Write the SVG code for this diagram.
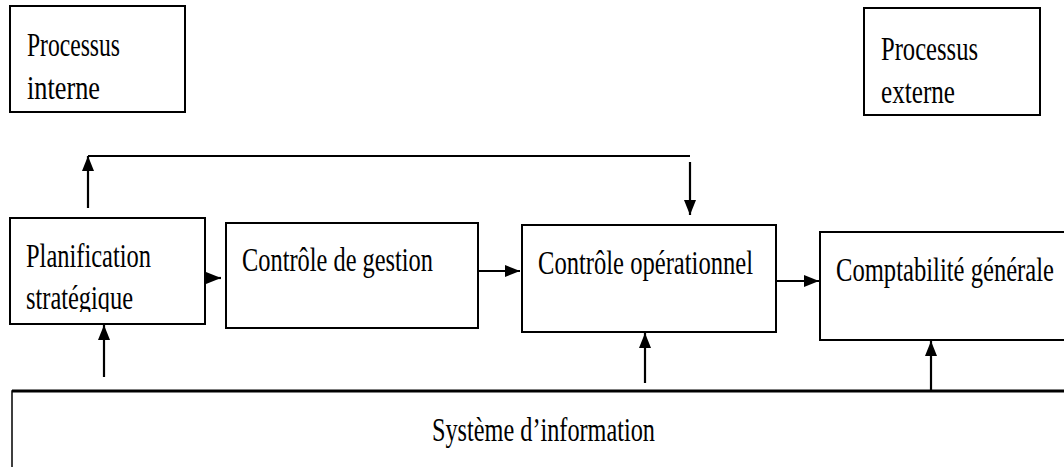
<svg xmlns="http://www.w3.org/2000/svg" width="1064" height="467" viewBox="0 0 1064 467">
<style>
.box{fill:#fff;stroke:#000;stroke-width:2}
.sys{fill:#fff;stroke:#000;stroke-width:1.5}
.t{font-family:"Liberation Serif","Times New Roman",serif;font-size:34px;fill:#000}
.c{fill:none;stroke:#000;stroke-width:2.2}
</style>
<defs>
<marker id="ah" markerUnits="userSpaceOnUse" markerWidth="16" markerHeight="14" refX="15" refY="7" orient="auto">
<path d="M0,1 L15,7 L0,13 Z" fill="#000"/>
</marker>
<clipPath id="clipPlan"><rect x="10" y="218" width="195" height="94"/></clipPath>
</defs>
<rect x="0" y="0" width="1064" height="467" fill="#fff"/>
<g id="processus-interne">
<rect class="box" x="10" y="6" width="175" height="106"/>
<text class="t" x="27" y="56" textLength="93" lengthAdjust="spacingAndGlyphs">Processus</text>
<text class="t" x="27" y="99" textLength="73" lengthAdjust="spacingAndGlyphs">interne</text>
</g>
<g id="processus-externe">
<rect class="box" x="864" y="8" width="176" height="107"/>
<text class="t" x="881" y="60" textLength="97" lengthAdjust="spacingAndGlyphs">Processus</text>
<text class="t" x="881" y="103" textLength="74" lengthAdjust="spacingAndGlyphs">externe</text>
</g>
<g id="planification">
<rect class="box" x="10" y="218" width="195" height="106"/>
<g clip-path="url(#clipPlan)">
<text class="t" x="26" y="267" textLength="125" lengthAdjust="spacingAndGlyphs">Planification</text>
<text class="t" x="26" y="309" textLength="107" lengthAdjust="spacingAndGlyphs">stratégique</text>
</g>
</g>
<g id="controle-gestion">
<rect class="box" x="226" y="223" width="252" height="105"/>
<text class="t" x="242" y="271" textLength="191" lengthAdjust="spacingAndGlyphs">Contrôle de gestion</text>
</g>
<g id="controle-operationnel">
<rect class="box" x="522" y="225" width="254" height="107"/>
<text class="t" x="538" y="274" textLength="215" lengthAdjust="spacingAndGlyphs">Contrôle opérationnel</text>
</g>
<g id="comptabilite-generale">
<rect class="box" x="820" y="232" width="246" height="108"/>
<text class="t" x="836" y="281" textLength="218" lengthAdjust="spacingAndGlyphs">Comptabilité générale</text>
</g>
<g id="systeme-information">
<rect class="sys" x="12" y="391" width="1056" height="80"/>
<line x1="12" y1="391" x2="1064" y2="391" stroke="#000" stroke-width="3"/>
<text class="t" x="432" y="441" textLength="223" lengthAdjust="spacingAndGlyphs">Système d’information</text>
</g>
<g id="connectors">
<line class="c" x1="88" y1="208" x2="88" y2="156" marker-end="url(#ah)"/>
<line class="c" x1="88" y1="156" x2="690" y2="156"/>
<line class="c" x1="690" y1="162" x2="690" y2="215" marker-end="url(#ah)"/>
<line class="c" x1="205" y1="278" x2="221" y2="278" marker-end="url(#ah)"/>
<line class="c" x1="478" y1="271" x2="520" y2="271" marker-end="url(#ah)"/>
<line class="c" x1="776" y1="281" x2="819" y2="281" marker-end="url(#ah)"/>
<line class="c" x1="104" y1="377" x2="104" y2="325" marker-end="url(#ah)"/>
<line class="c" x1="645" y1="383" x2="645" y2="333" marker-end="url(#ah)"/>
<line class="c" x1="931" y1="391" x2="931" y2="341" marker-end="url(#ah)"/>
</g>
</svg>
